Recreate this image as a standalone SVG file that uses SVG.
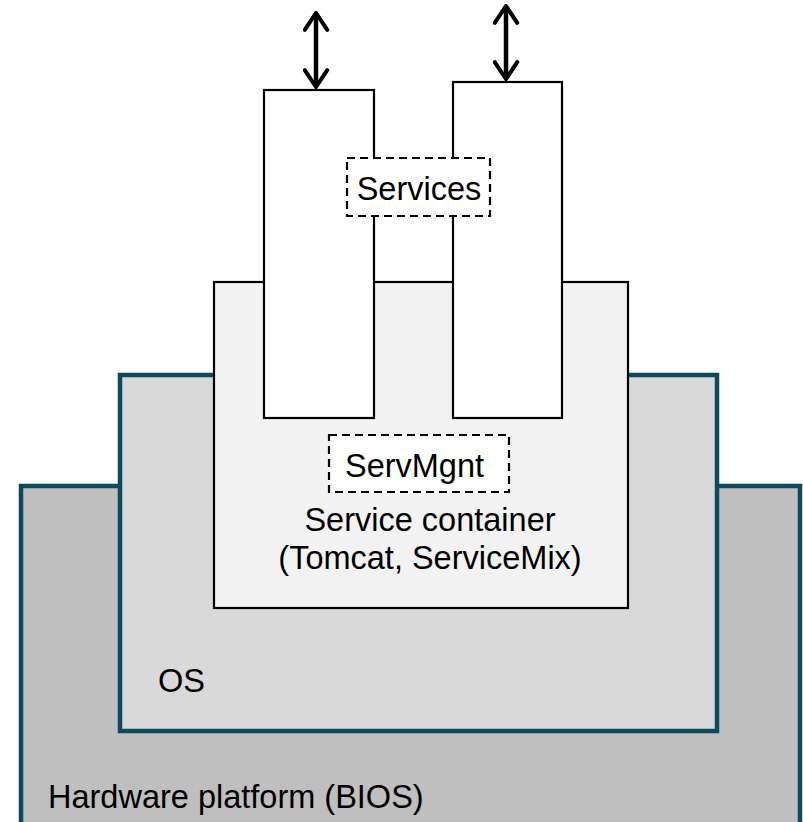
<svg xmlns="http://www.w3.org/2000/svg" width="803" height="822" viewBox="0 0 803 822">
<defs>
<style>
.layer{stroke:#0d4a5c;stroke-width:4.5}
.solid{stroke:#000;stroke-width:2.2}
.dash{fill:#fff;stroke:#000;stroke-width:2.2;stroke-dasharray:8 5}
.t{font-family:"Liberation Sans",Arial,sans-serif;font-size:32.5px;fill:#000}
.arr{stroke:#000;stroke-width:4.5;fill:none}
</style>
<marker id="ah" viewBox="0 0 10 12" refX="9" refY="6" markerWidth="5" markerHeight="6" orient="auto-start-reverse" markerUnits="strokeWidth">
<path d="M1.5,1 L9,6 L1.5,11" fill="none" stroke="#000" stroke-width="1.8" stroke-linecap="round" stroke-linejoin="round"/>
</marker>
</defs>
<rect width="803" height="822" fill="#fff"/>
<g id="hardware">
<rect class="layer" x="21" y="486" width="779" height="340" fill="#bfbfbf"/>
<text class="t" x="48" y="808">Hardware platform (BIOS)</text>
</g>
<g id="os">
<rect class="layer" x="120" y="375" width="597" height="356" fill="#d9d9d9"/>
<text class="t" x="158" y="692">OS</text>
</g>
<g id="container">
<rect class="solid" x="214" y="282" width="414" height="326" fill="#f2f2f2"/>
<text class="t" x="430" y="531" text-anchor="middle">Service container</text>
<text class="t" x="430" y="569" text-anchor="middle">(Tomcat, ServiceMix)</text>
</g>
<g id="service1">
<rect class="solid" x="264" y="90" width="110" height="328" fill="#fff"/>
</g>
<g id="service2">
<rect class="solid" x="453" y="82" width="109" height="336" fill="#fff"/>
</g>
<g id="services">
<rect class="dash" x="347" y="158" width="143" height="58"/>
<text class="t" x="419" y="200" text-anchor="middle">Services</text>
</g>
<g id="servmgnt">
<rect class="dash" x="329" y="435" width="180" height="57"/>
<text class="t" x="414.5" y="477" text-anchor="middle">ServMgnt</text>
</g>
<g id="connectors">
<line class="arr" x1="316" y1="13" x2="316" y2="87" marker-start="url(#ah)" marker-end="url(#ah)"/>
<line class="arr" x1="506" y1="6" x2="506" y2="79" marker-start="url(#ah)" marker-end="url(#ah)"/>
</g>
</svg>
